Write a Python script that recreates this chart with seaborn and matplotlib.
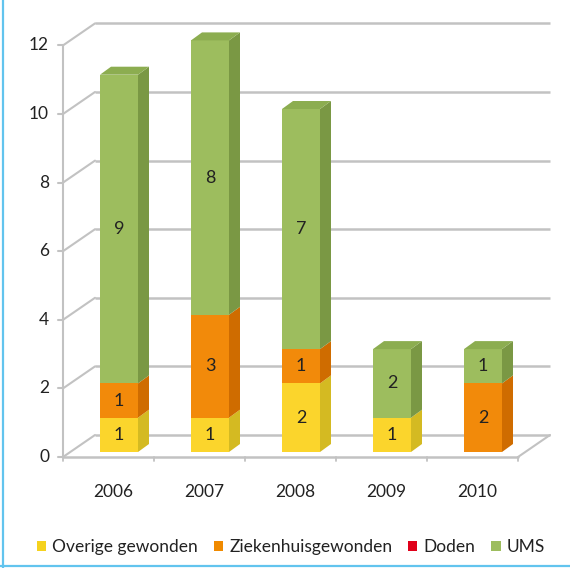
import matplotlib
matplotlib.use("Agg")
import matplotlib.pyplot as plt
import seaborn as sns
import numpy as np
import pandas as pd
from matplotlib.patches import Patch, Polygon
from matplotlib.lines import Line2D

# ---- data ----
years = ["2006", "2007", "2008", "2009", "2010"]
series_names = ["Overige gewonden", "Ziekenhuisgewonden", "Doden", "UMS"]
overige = [1, 1, 2, 1, 0]
ziekenhuis = [1, 3, 1, 0, 2]
doden = [0, 0, 0, 0, 0]
ums = [9, 8, 7, 2, 1]
y_ticks = [0, 2, 4, 6, 8, 10, 12]

# ---- style ----
front_cols = ["#FBD52C", "#F28A0A", "#E0101A", "#9DBD5E"]
side_cols = ["#D4BA22", "#CF6C00", "#B00010", "#7A9844"]
top_cols = ["#E8C828", "#E07C05", "#C80010", "#8CAD50"]
legend_cols = ["#F5D21E", "#F08A00", "#E0001A", "#9DBD5E"]
grid_col = "#C2C2C2"
txt_col = "#222222"

sns.set_theme(style="white")
plt.rcParams["font.family"] = ["Lato", "DejaVu Sans"]

W, H = 570, 568
fig = plt.figure(figsize=(W / 100, H / 100), dpi=100)
# pixel mapping of bar plane: x_px = 119 + 91*x ; y_px = 452 - 34.3*y
px0, pxs, py0, pys = 119.0, 91.0, 452.0, 34.3
L, R, T, B = 40, 560, 20, 470
ax = fig.add_axes([L / W, 1 - B / H, (R - L) / W, (B - T) / H])

def dx(p):
    return p / pxs

def dy(p):
    return p / pys

bw = 38 / pxs
# depth offsets (pixels): front axis plane, back wall, bar depth
f_off = (dx(-10.5), dy(-5))
b_off = (dx(21.5), dy(17))
d_off = (dx(11), dy(8))

n = len(years)
xs = np.arange(n)
vals = [overige, ziekenhuis, doden, ums]
cum = np.cumsum(np.array(vals), axis=0)

# front faces via seaborn (overlap trick: draw cumulative totals, top series first)
df = pd.DataFrame({"year": years})
for i in range(len(vals) - 1, -1, -1):
    df["tot"] = cum[i]
    sns.barplot(data=df, x="year", y="tot", order=years, color=front_cols[i], saturation=1,
                width=bw, ax=ax, zorder=3, linewidth=0, errorbar=None)
ax.set_xlim((L - px0) / pxs, (R - px0) / pxs)
ax.set_ylim((py0 - B) / pys, (py0 - T) / pys)
ax.axis("off")

# back wall gridlines + left wall diagonals
xl_front = -0.5 + f_off[0]
xr_front = n - 0.5 + f_off[0]
xl_back = -0.5 + b_off[0]
xr_back = n - 0.5 + b_off[0]
for v in y_ticks:
    ax.plot([xl_back, xr_back], [v + b_off[1], v + b_off[1]], color=grid_col, lw=1.8, zorder=1,
            solid_capstyle="butt")
    ax.plot([xl_front, xl_back], [v + f_off[1], v + b_off[1]], color=grid_col, lw=1.5, zorder=1)
    ax.plot([xl_front - dx(5), xl_front], [v + f_off[1]] * 2, color=grid_col, lw=1.5, zorder=1)
    ax.text(xl_front - dx(14), v + f_off[1], str(v), ha="right", va="center",
            fontsize=12.5, color=txt_col)
# front vertical axis
ax.plot([xl_front, xl_front], [f_off[1], y_ticks[-1] + f_off[1]], color=grid_col, lw=1.5, zorder=1)
# floor front edge and right edge
ax.plot([xl_front, xr_front], [f_off[1], f_off[1]], color=grid_col, lw=1.8, zorder=1)
ax.plot([xr_front, xr_back], [f_off[1], b_off[1]], color=grid_col, lw=1.5, zorder=1)
for k in range(n + 1):
    xt = k - 0.5 + f_off[0]
    ax.plot([xt, xt], [f_off[1], f_off[1] - dy(4)], color=grid_col, lw=1.3, zorder=1)

# side + top faces, value labels
for j in range(n):
    x0, x1 = xs[j] - bw / 2, xs[j] + bw / 2
    for i in range(len(vals)):
        h = vals[i][j]
        if h == 0:
            continue
        y1 = cum[i][j]
        y0 = y1 - h
        ax.add_patch(Polygon([(x1, y0), (x1 + d_off[0], y0 + d_off[1]),
                              (x1 + d_off[0], y1 + d_off[1]), (x1, y1)],
                             closed=True, facecolor=side_cols[i], edgecolor="none", zorder=3))
        ax.text(xs[j], (y0 + y1) / 2, str(h), ha="center", va="center", fontsize=13,
                color=txt_col, zorder=5)
    top = cum[-1][j]
    itop = max(i for i in range(len(vals)) if vals[i][j] > 0)
    ax.add_patch(Polygon([(x0, top), (x1, top), (x1 + d_off[0], top + d_off[1]),
                          (x0 + d_off[0], top + d_off[1])],
                         closed=True, facecolor=top_cols[itop], edgecolor="none", zorder=3))
    ax.text(xs[j] + f_off[0] + dx(5), f_off[1] - dy(35), years[j], ha="center", va="center",
            fontsize=12.5, color=txt_col)

handles = [Patch(facecolor=c, edgecolor="none") for c in legend_cols]
fig.legend(handles, series_names, loc="center", bbox_to_anchor=(0.51, 1 - 547 / H), ncol=4,
           frameon=False, fontsize=12.5, handlelength=0.55, handleheight=0.55,
           handletextpad=0.35, columnspacing=0.9, labelcolor=txt_col)

# light-blue frame (left and bottom)
fig.add_artist(Line2D([3 / W, 3 / W], [0, 1], transform=fig.transFigure, color="#62C4EE", lw=1.6))
fig.add_artist(Line2D([0, 1], [1 - 566 / H, 1 - 566 / H], transform=fig.transFigure,
                      color="#62C4EE", lw=1.6))

fig.savefig("out.png", dpi=100, facecolor="white")
